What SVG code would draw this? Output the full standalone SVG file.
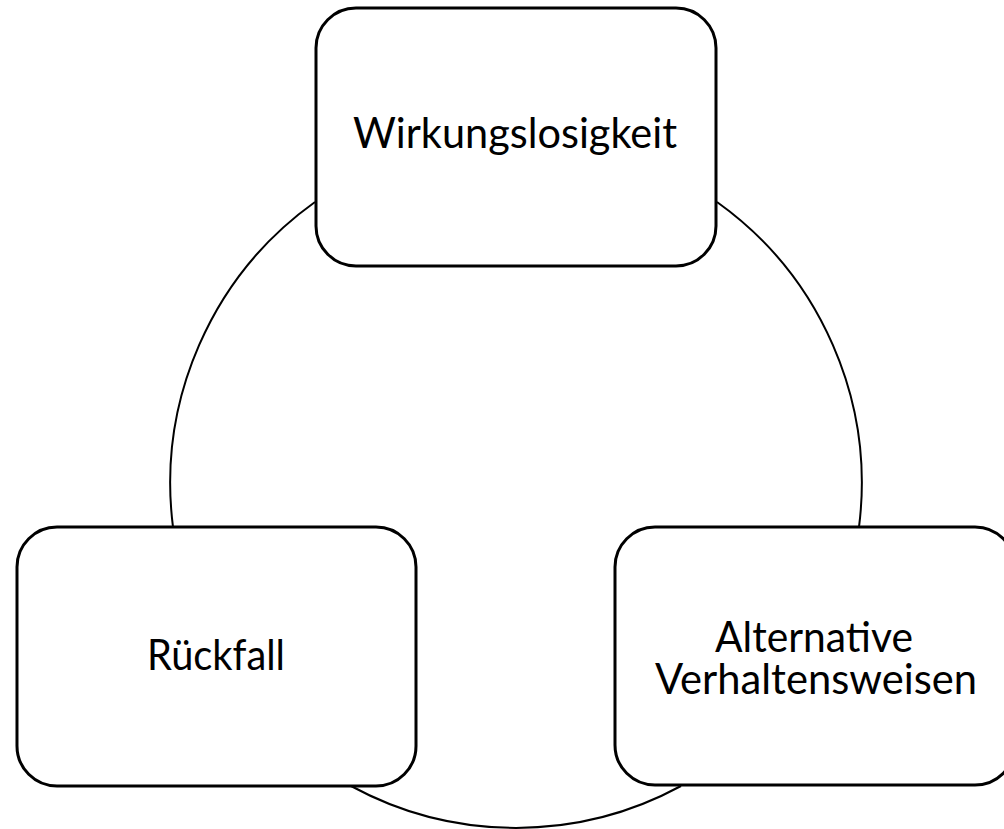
<svg xmlns="http://www.w3.org/2000/svg" width="1004" height="829" viewBox="0 0 1004 829">
  <style>
    .box { fill: #ffffff; stroke: #000000; stroke-width: 3; }
    .arc { fill: none; stroke: #000000; stroke-width: 2; }
    .lbl { font-family: Lato, "Open Sans", "Liberation Sans", sans-serif; font-size: 43px; fill: #000000; text-anchor: middle; }
  </style>
  <rect width="1004" height="829" fill="#ffffff"/>
  <g id="connectors">
    <path class="arc" d="M 717 202 A 346 346 0 0 1 859 527"/>
    <path class="arc" d="M 681 786 A 346 346 0 0 1 351 786"/>
    <path class="arc" d="M 173 527 A 346 346 0 0 1 315 202"/>
  </g>
  <g id="node-wirkungslosigkeit">
    <rect class="box" x="316" y="8" width="400" height="258" rx="40" ry="40"/>
    <text class="lbl" x="515" y="148" textLength="324" lengthAdjust="spacingAndGlyphs">Wirkungslosigkeit</text>
  </g>
  <g id="node-alternative">
    <rect class="box" x="615" y="527" width="400" height="258" rx="40" ry="40"/>
    <text class="lbl" x="814" y="652" textLength="198" lengthAdjust="spacingAndGlyphs">Alternative</text>
    <text class="lbl" x="816" y="694" textLength="322" lengthAdjust="spacingAndGlyphs">Verhaltensweisen</text>
  </g>
  <g id="node-rueckfall">
    <rect class="box" x="17" y="527" width="399" height="259" rx="40" ry="40"/>
    <text class="lbl" x="216" y="670" textLength="138" lengthAdjust="spacingAndGlyphs">Rückfall</text>
  </g>
</svg>
